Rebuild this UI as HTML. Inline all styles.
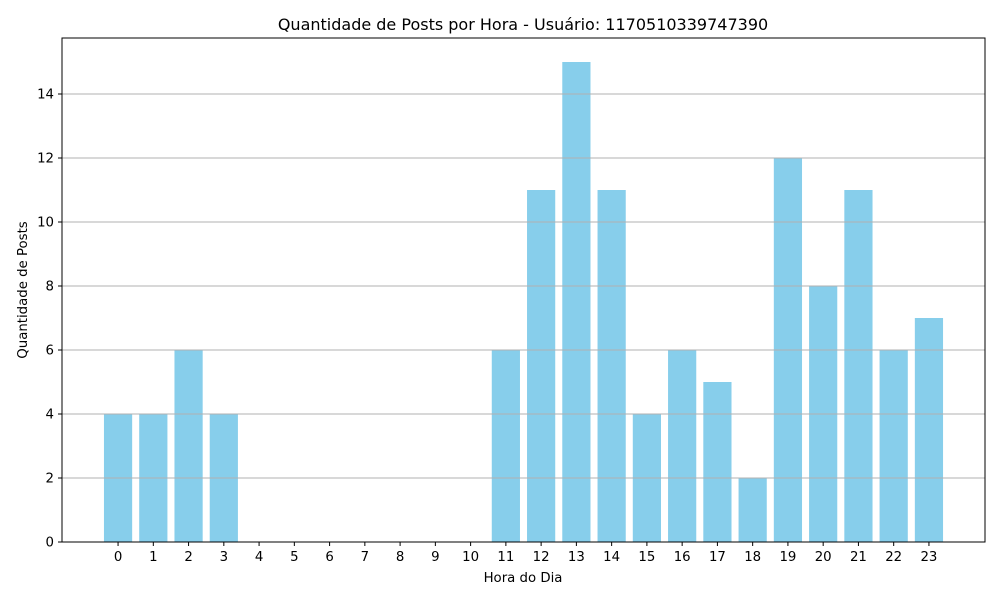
<!DOCTYPE html>
<html><head><meta charset="utf-8"><style>
html,body{margin:0;padding:0;background:#fff;}
svg{display:block;font-family:"DejaVu Sans","Liberation Sans",sans-serif;}
</style></head><body>
<svg id="chart" width="1000" height="600">
<rect width="1000" height="600" fill="#fff"/>
<text x="523" y="30" font-size="16" text-anchor="middle">Quantidade de Posts por Hora - Usuário: 1170510339747390</text>
<text x="523" y="582" font-size="13.3" text-anchor="middle">Hora do Dia</text>
<text x="27" y="290" font-size="13.3" text-anchor="middle" transform="rotate(-90 27 290)">Quantidade de Posts</text>
<g id="bars"></g><g id="grid"></g><g id="xt"></g><g id="yt"></g>
<rect x="62" y="38" width="923" height="504" fill="none" stroke="#000" stroke-width="1"/>
</svg>
<script>
const hours = [0,1,2,3,4,5,6,7,8,9,10,11,12,13,14,15,16,17,18,19,20,21,22,23];
const posts = [4,4,6,4,0,0,0,0,0,0,0,6,11,15,11,4,6,5,2,12,8,11,6,7];
const yTicks = [0,2,4,6,8,10,12,14];

const L=62,R=985,T=38,B=542;
const xMin=-1.59,xMax=24.59,yMax=15.75;
const xs=v=>L+(v-xMin)/(xMax-xMin)*(R-L);
const ys=v=>B-v/yMax*(B-T);
const NS="http://www.w3.org/2000/svg";
function mk(tag,attrs,parent){const e=document.createElementNS(NS,tag);for(const k in attrs)e.setAttribute(k,attrs[k]);parent.appendChild(e);return e;}
const gb=document.getElementById('bars'),gg=document.getElementById('grid'),gx=document.getElementById('xt'),gy=document.getElementById('yt');
hours.forEach((h,i)=>{
  const v=posts[i];
  const r=mk('rect',{x:xs(h-0.4),y:ys(v),width:xs(h+0.4)-xs(h-0.4),height:B-ys(v),fill:'#87ceeb'},gb);
  
  
  const x=xs(h);
  mk('line',{x1:x,x2:x,y1:B,y2:B+4,stroke:'#000'},gx);
  const t=mk('text',{x:x,y:B+19,'font-size':13.3,'text-anchor':'middle'},gx);
  t.textContent=h;
  
  
});
yTicks.forEach(v=>{
  const y=ys(v);
  const gl=mk('line',{x1:L,x2:R,y1:y,y2:y,stroke:'#b0b0b0','stroke-width':0.9},gg);
  
  
  mk('line',{x1:L-4,x2:L,y1:y,y2:y,stroke:'#000'},gy);
  const t=mk('text',{x:L-8,y:y+4.5,'font-size':13.3,'text-anchor':'end'},gy);
  t.textContent=v;
  
  
});
</script>
</body></html>
